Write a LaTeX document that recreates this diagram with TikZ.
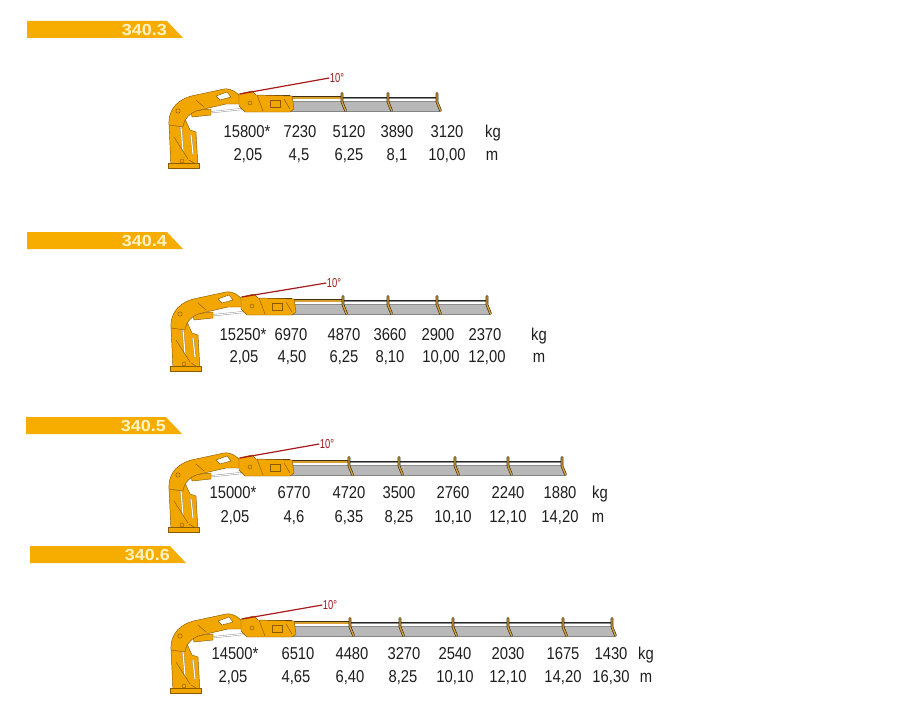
\documentclass[tikz,border=0pt]{standalone}
\usepackage{fontspec}
\setmainfont{Liberation Sans}
\newfontfamily\numfont[FakeStretch=0.86]{Liberation Sans}
\newfontfamily\banfont[FakeStretch=1.12]{Liberation Sans}
\newfontfamily\degfont[FakeStretch=0.72]{Liberation Sans}
\definecolor{cyel}{HTML}{F2A600}
\definecolor{ydk}{HTML}{8A5A00}
\definecolor{bannerc}{HTML}{F7AD00}
\definecolor{bantext}{HTML}{FFF3C4}
\definecolor{cred}{HTML}{A8191E}
\definecolor{facec}{HTML}{B8B8B8}
\definecolor{edgec}{HTML}{5E5E5E}
\definecolor{goldc}{HTML}{D6A032}
\definecolor{txt}{HTML}{1E1E1E}
\tikzset{
  bannerbox/.style={fill=bannerc, draw=none},
  bantxt/.style={font=\banfont\bfseries\fontsize{16}{16}\selectfont, text=bantext, anchor=base east, inner sep=0pt},
  val/.style={font=\numfont\fontsize{17.2}{17}\selectfont, text=txt, anchor=base, inner sep=0pt},
  deg/.style={font=\degfont\fontsize{13}{13}\selectfont, text=cred, inner sep=0.5pt},
  redline/.style={draw=cred, line width=1.2pt},
  yel/.style={fill=cyel, draw=ydk, line width=0.45pt, line join=round},
  ydet/.style={draw=ydk, line width=0.45pt},
  face/.style={fill=facec, draw=edgec, line width=0.5pt, line join=round},
  rodout/.style={draw=black!85, line width=2.6pt},
  rodin/.style={draw=black!45, line width=0.7pt},
  goldout/.style={draw=black!70!goldc, line width=3.2pt},
  goldin/.style={draw=goldc, line width=2pt},
  brkout/.style={draw=black!75!goldc, line width=2.6pt, line cap=round, line join=round},
  brkin/.style={draw=goldc, line width=1.4pt, line cap=round, line join=round},
  cyl/.style={draw=black!45, double=white, double distance=1.1pt, line width=0.4pt},
}
% #1,#2 pivot; #3 first bracket (local x); #4 further brackets (local x); #5 id
\newcommand\crane[5]{%
\begin{scope}[shift={(#1,#2)}]
  % extension faces and rods
  \filldraw[face] (49,4.5) -- (#3,4.5) -- (#3+3,14.5) -- (49,14.5) -- cycle;
  \foreach \b [remember=\b as \a (initially #3)] in {#4}{
    \filldraw[face] (\a+1,4.5) -- (\b,4.5) -- (\b+3,14.5) -- (\a+4,14.5) -- cycle;
    \draw[rodout] (\a,1) -- (\b,1);
    \draw[rodin] (\a+1,1) -- (\b-1,1);
  }
  \draw[goldout] (46,0.6) -- (#3,0.6);
  \draw[goldin] (46,0.6) -- (#3,0.6);
  \foreach \b in {#3,#4}{
    \draw[brkout] (\b,-3.5) -- (\b,5) -- (\b+3.5,13.5);
    \draw[brkin] (\b,-3.5) -- (\b,5) -- (\b+3.5,13.5);
  }
  % column
  \filldraw[yel] (-69,70) -- (-71,27) -- (-63,21) -- (-55,22) -- (-50,33) -- (-44,35) -- (-42,70) -- cycle;
  \draw[cyl] (-59,30) -- (-57,54);
  \draw[cyl] (-49,38) -- (-47,57);
  \draw[ydet] (-66,40) -- (-52,62);
  \draw[ydet] (-58,64) circle (2);
  \draw[ydet] (-51,63) -- (-46,66);
  \filldraw[yel] (-72,66) rectangle (-41,71);
  % arm cylinder
  \draw[cyl] (-46,17) -- (2,12);
  \filldraw[yel] (-49,14) -- (-29,12) -- (-29,18) -- (-48,20) -- cycle;
  % arm
  \filldraw[yel] (-71,28) .. controls (-72,11) and (-61,1) .. (-44,-2) -- (-16,-8)
     .. controls (-8,-9) and (-2,-4) .. (1,1) -- (3,7) -- (-14,7) -- (-40,13)
     .. controls (-50,15) and (-56,22) .. (-57,30) -- cycle;
  \filldraw[fill=white, draw=ydk, line width=0.45pt] (-24,-1) -- (-13,-5) -- (-9,0) -- (-20,3) -- cycle;
  \draw[ydet] (-62,14) circle (2.2);
  \draw[ydet] (-44,3) -- (-36,10);
  % main boom
  \draw[draw=black!85, line width=1.2pt] (18,-1.5) -- (50,-1.5);
  \filldraw[yel] (-1,-3) -- (12,-6) -- (16,-2) -- (52,-1) -- (54,12) -- (50,15) -- (5,15) -- (-1,9) -- cycle;
  \draw[ydet] (10,6) circle (2);
  \draw[ydet] (30,3) rectangle (40,10);
  \draw[ydet] (17,-2) -- (23,14);
  \draw[ydet] (44,2) -- (50,12);
  \coordinate (r#5) at (0,-3);
\end{scope}}

\begin{document}
\begin{tikzpicture}[x=1pt,y=-1pt]
\useasboundingbox (0,0) rectangle (908,709);
\fill[white] (0,0) rectangle (908,709);

% banners
\foreach \n/\x/\y/\t in {b1/27/21/340.3, b2/27/232/340.4, b3/26/417/340.5, b4/30/546/340.6}{
  \fill[bannerbox] (\x,\y) -- (\x+140,\y) -- (\x+156,\y+17) -- (\x,\y+17) -- cycle;
  \node[bantxt] (\n) at (\x+140,\y+14.5) {\t};
}

% cranes
\crane{240}{97}{102}{148,197}{1}
\crane{242}{300}{101}{146,195,245}{2}
\crane{240}{461}{109}{159,215,268,322}{3}
\crane{242}{622}{108}{158,211,266,321,370}{4}

% angle labels
\node[deg] (d1) at (337,78) {10°};
\node[deg] (d2) at (334,283) {10°};
\node[deg] (d3) at (327,444) {10°};
\node[deg] (d4) at (330,605) {10°};
\foreach \i in {1,2,3,4}{ \draw[redline] (r\i) -- (d\i.west); }

% crane 1 values
\foreach \x/\t [count=\i] in {247/15800*, 300/7230, 349/5120, 397/3890, 447/3120, 493/kg}
  {\node[val] (k1-\i) at (\x,137) {\t};}
\foreach \x/\t [count=\i] in {248/{2,05}, 299/{4,5}, 349/{6,25}, 397/{8,1}, 447/{10,00}, 492/m}
  {\node[val] (m1-\i) at (\x,160) {\t};}

% crane 2 values
\foreach \x/\t [count=\i] in {243/15250*, 291/6970, 344/4870, 390/3660, 438/2900, 485/2370, 539/kg}
  {\node[val] (k2-\i) at (\x,340) {\t};}
\foreach \x/\t [count=\i] in {244/{2,05}, 292/{4,50}, 344/{6,25}, 390/{8,10}, 441/{10,00}, 487/{12,00}, 539/m}
  {\node[val] (m2-\i) at (\x,362) {\t};}

% crane 3 values
\foreach \x/\t [count=\i] in {233/15000*, 294/6770, 349/4720, 399/3500, 453/2760, 508/2240, 560/1880, 600/kg}
  {\node[val] (k3-\i) at (\x,498) {\t};}
\foreach \x/\t [count=\i] in {235/{2,05}, 294/{4,6}, 349/{6,35}, 399/{8,25}, 453/{10,10}, 508/{12,10}, 560/{14,20}, 598/m}
  {\node[val] (m3-\i) at (\x,522) {\t};}

% crane 4 values
\foreach \x/\t [count=\i] in {235/14500*, 298/6510, 352/4480, 404/3270, 455/2540, 508/2030, 563/1675, 611/1430, 646/kg}
  {\node[val] (k4-\i) at (\x,659) {\t};}
\foreach \x/\t [count=\i] in {233/{2,05}, 296/{4,65}, 350/{6,40}, 403/{8,25}, 455/{10,10}, 508/{12,10}, 563/{14,20}, 611/{16,30}, 646/m}
  {\node[val] (m4-\i) at (\x,682) {\t};}
\end{tikzpicture}
\end{document}
